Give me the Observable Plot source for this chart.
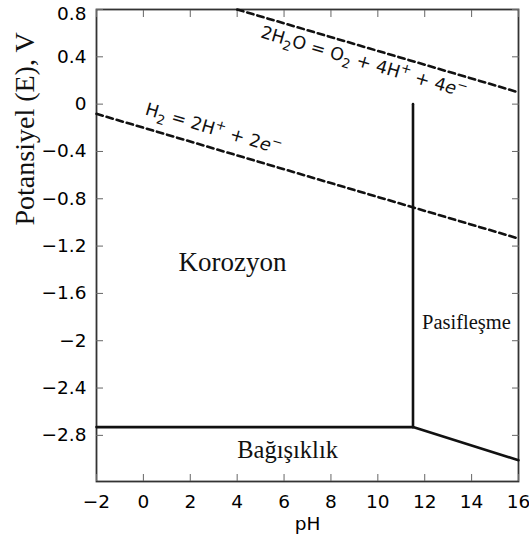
<!DOCTYPE html>
<html>
<head>
<meta charset="utf-8">
<script src="https://cdn.jsdelivr.net/npm/d3@7"></script>
<script src="https://cdn.jsdelivr.net/npm/@observablehq/plot@0.6"></script>
<style>
  html, body { margin: 0; padding: 0; background: #fff; }
  #chart svg { display: block; }
</style>
</head>
<body>
<div id="chart"></div>
<script>
// Axis ticks
const phTicks = [-2, 0, 2, 4, 6, 8, 10, 12, 14, 16];
const eTicks = [0.8, 0.4, 0, -0.4, -0.8, -1.2, -1.6, -2, -2.4, -2.8];

// Water stability lines (dashed): O2 evolution and H2 evolution
const oxygenPH = [4, 16];
const oxygenE = [0.8, 0.10];
const hydrogenPH = [-2, 16];
const hydrogenE = [-0.082, -1.136];

// Region boundaries (solid)
const immunityPH = [-2, 11.5];
const immunityE = [-2.73, -2.73];
const passivePH = [11.5, 11.5];
const passiveE = [-2.73, 0];
const slopePH = [11.5, 16];
const slopeE = [-2.73, -3.01];

// Region names and their anchor points (pH, E)
const regionNames = ["Korozyon", "Pasifleşme", "Bağışıklık"];
const regionPH = [3.8, 13.78, 6.15];
const regionE = [-1.41, -1.9, -2.995];

// Reactions written along the dashed lines
const reactionPlain = ["2H2O = O2 + 4H+ + 4e−", "H2 = 2H+ + 2e−"];
const reactionParts = [
  [["2H", ""], ["2", "sub"], ["O = O", ""], ["2", "sub"], [" + 4H", ""], ["+", "sup"], [" + 4", ""], ["e", "it"], ["−", "sup"]],
  [["H", ""], ["2", "sub"], [" = 2H", ""], ["+", "sup"], [" + 2", ""], ["e", "it"], ["−", "sup"]]
];
const reactionPH = [9.4, 2.99];
const reactionE = [0.355, -0.21];

const pts = (xs, ys) => xs.map((x, i) => ({pH: x, E: ys[i]}));
const minus = d => String(d).replace("-", "\u2212");

const base = {
  width: 529,
  height: 545,
  marginLeft: 96,
  marginRight: 11,
  marginTop: 9,
  marginBottom: 64,
  x: {domain: [-2, 16], axis: null, label: null},
  y: {domain: [-3.19, 0.8], axis: null, label: null},
  style: {fontFamily: "'DejaVu Sans', sans-serif", fontSize: "18.5px", color: "#000", background: "#fff"}
};

// Scales alone, to align the reaction text with its line
const probe = Plot.plot({...base, marks: [Plot.frame()]});
const sx = probe.scale("x"), sy = probe.scale("y");
const slopeAngle = (xs, ys) =>
  Math.atan2(sy.apply(ys[1]) - sy.apply(ys[0]), sx.apply(xs[1]) - sx.apply(xs[0])) * 180 / Math.PI;
const reactionAngles = [slopeAngle(oxygenPH, oxygenE), slopeAngle(hydrogenPH, hydrogenE)];

const serif = "'Liberation Serif', 'Times New Roman', serif";
const regionFont = {"Korozyon": 27, "Pasifleşme": 20.5, "Bağışıklık": 24.5};

const dashed = {x: "pH", y: "E", stroke: "#111", strokeWidth: 2.6, strokeDasharray: "6.5,4"};
const solid = {x: "pH", y: "E", stroke: "#111", strokeWidth: 2.6};

const chart = Plot.plot({
  ...base,
  marks: [
    Plot.frame({stroke: "#333", strokeWidth: 1.8}),
    Plot.axisX(phTicks, {anchor: "bottom", tickSize: -7, tickPadding: 20, tickFormat: minus, stroke: "#666", fill: "#000", label: null}),
    Plot.axisX(phTicks, {anchor: "top", tickSize: -7, stroke: "#666", fill: "none", label: null}),
    Plot.axisY(eTicks, {anchor: "left", tickSize: -7, stroke: "#666", fill: "none", label: null}),
    Plot.axisY(eTicks, {anchor: "right", tickSize: -7, stroke: "#666", fill: "none", label: null}),
    Plot.axisY(eTicks.slice(1), {anchor: "left", tickSize: 0, tickPadding: 10, tickFormat: minus, fill: "#000", label: null}),
    Plot.axisY(eTicks.slice(0, 1), {anchor: "left", tickSize: 0, tickPadding: 10, tickFormat: minus, dy: 5, fill: "#000", label: null}),
    Plot.line(pts(oxygenPH, oxygenE), dashed),
    Plot.line(pts(hydrogenPH, hydrogenE), dashed),
    Plot.line(pts(immunityPH, immunityE), solid),
    Plot.line(pts(passivePH, passiveE), solid),
    Plot.line(pts(slopePH, slopeE), solid),
    ...regionNames.map((name, i) => Plot.text([name], {
      x: [regionPH[i]], y: [regionE[i]], text: d => d,
      lineAnchor: "bottom", fontFamily: serif, fontSize: regionFont[name], fill: "#111"
    })),
    Plot.text(reactionPlain, {
      x: reactionPH, y: reactionE, text: d => d,
      rotate: (d, i) => reactionAngles[i], fontSize: 17.5, fill: "#111"
    }),
    Plot.text(["Potansiyel (E), V"], {
      frameAnchor: "left", rotate: -90, dx: -71, dy: -20,
      fontFamily: serif, fontSize: 28, fill: "#111"
    }),
    Plot.text(["pH"], {frameAnchor: "bottom", dy: 48, lineAnchor: "bottom", fill: "#000"})
  ]
});

// Rebuild reaction labels with subscripts, superscripts and italic e
const NS = "http://www.w3.org/2000/svg";
chart.querySelectorAll("text").forEach(t => {
  const k = reactionPlain.indexOf(t.textContent);
  if (k < 0) return;
  t.textContent = "";
  let shift = 0;
  for (const [s, kind] of reactionParts[k]) {
    const ts = document.createElementNS(NS, "tspan");
    const target = kind === "sub" ? 5 : kind === "sup" ? -7 : 0;
    ts.setAttribute("dy", target - shift);
    shift = target;
    if (kind === "sub" || kind === "sup") ts.setAttribute("font-size", "13");
    if (kind === "it") ts.setAttribute("font-style", "italic");
    ts.textContent = s;
    t.appendChild(ts);
  }
});

document.getElementById("chart").appendChild(chart);
</script>
</body>
</html>
